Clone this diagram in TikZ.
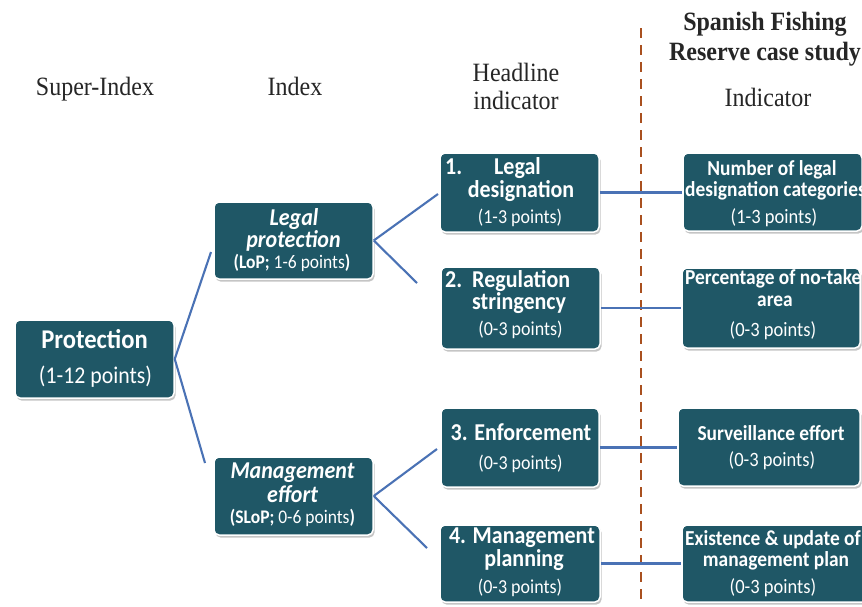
\documentclass[tikz,border=0pt]{standalone}
\usepackage{graphicx}
\usepackage{fontspec}
\setmainfont{Liberation Serif}
\newfontfamily\carl{Carlito}
\usetikzlibrary{shadows}
\definecolor{boxc}{HTML}{1F5766}
\definecolor{linec}{HTML}{4A72B5}
\definecolor{dashc}{HTML}{A9501F}
\newcommand\fs[2]{\fontsize{#1}{#2}\selectfont}
\newcommand\Ys[1]{\scalebox{1}[1.1]{#1}}
\begin{document}
\begin{tikzpicture}[x=1pt,y=-1pt,
  box/.style={rectangle, rounded corners=5pt, fill=boxc, draw=white, line width=1.5pt,
    inner sep=0pt,
    drop shadow={shadow xshift=1.5pt, shadow yshift=-2.5pt, fill=black!45, opacity=0.5}},
  tl/.style={anchor=base, inner sep=0pt, text=white, font=\carl},
  tlw/.style={tl, anchor=base west},
  hb/.style={font=\carl\fs{22}{24}\bfseries},
  hbi/.style={font=\carl\fs{22}{24}\bfseries\itshape},
  ib/.style={font=\carl\fs{19.4}{21}\bfseries},
  pr/.style={font=\carl\fs{18}{20}},
  conn/.style={draw=linec, line width=2.1pt},
  hdr/.style={anchor=base, inner sep=0pt, font=\fs{24}{28}, text=black!85},
  sep/.style={draw=dashc, line width=2.8pt, dash pattern=on 10pt off 7pt}
]
\useasboundingbox (0,0) rectangle (862,606);
\fill[white] (0,0) rectangle (862,606);

% headers
\node[hdr] (hsup) at (95,95) {\Ys{Super-Index}};
\node[hdr] (hidx) at (295,95) {\Ys{Index}};
\node[hdr] (hhead1) at (516,81) {\Ys{Headline}};
\node[hdr] (hhead2) at (516,109) {\Ys{indicator}};
\node[hdr, font=\fs{24}{28}\bfseries] (hspan1) at (765,30.5) {\Ys{Spanish Fishing}};
\node[hdr, font=\fs{24}{28}\bfseries] (hspan2) at (765,60) {\Ys{Reserve case study}};
\node[hdr] (hind) at (768,106.5) {\Ys{Indicator}};

% separator
\coordinate (septop) at (641,28);
\coordinate (sepbot) at (641,606);
\draw[sep] (septop) -- (sepbot);

% boxes
\node[box, minimum width=159pt, minimum height=78pt] (prot) at (94.5,359) {};
\node[box, minimum width=159pt, minimum height=77pt] (lp) at (293.5,240.5) {};
\node[box, minimum width=159pt, minimum height=78pt] (me) at (293.5,496) {};
\node[box, minimum width=159pt, minimum height=79pt] (h1) at (519.5,192.5) {};
\node[box, minimum width=159pt, minimum height=82pt] (h2) at (520.5,308) {};
\node[box, minimum width=158pt, minimum height=79pt] (h3) at (520,447.5) {};
\node[box, minimum width=160pt, minimum height=77pt] (h4) at (520,563.5) {};
\node[box, minimum width=179pt, minimum height=78pt] (i1) at (772.5,192) {};
\node[box, minimum width=178pt, minimum height=80pt] (i2) at (771,308) {};
\node[box, minimum width=182pt, minimum height=78pt] (i3) at (769,447) {};
\node[box, minimum width=190pt, minimum height=77pt] (i4) at (777,563.5) {};

% texts: Protection
\node[tl, font=\carl\fs{24.6}{26}\bfseries] (tp1) at (94.5,348) {\Ys{Protection}};
\node[tl, font=\carl\fs{21.8}{23}] (tp2) at (95.5,383) {\Ys{(1-12 points)}};
% Legal protection
\node[tl, hbi] (tlp1) at (294,225) {\Ys{Legal}};
\node[tl, hbi] (tlp2) at (293.5,247) {\Ys{protection}};
\node[tl, font=\carl\fs{17.5}{19}] (tlp3) at (292,268) {\Ys{\textbf{(LoP;} 1-6 points\textbf{)}}};
% Management effort
\node[tl, hbi] (tme1) at (292.5,478) {\Ys{Management}};
\node[tl, hbi] (tme2) at (292.5,502) {\Ys{effort}};
\node[tl, font=\carl\fs{17.5}{19}] (tme3) at (292.5,523) {\Ys{\textbf{(SLoP;} 0-6 points\textbf{)}}};
% 1. Legal designation
\node[tlw, hb] (th1a) at (445,174) {\Ys{1.}};
\node[tl, hb] (th1b) at (517.5,174) {\Ys{Legal}};
\node[tl, hb] (th1c) at (521,197) {\Ys{designation}};
\node[tl, pr] (th1d) at (520,223) {\Ys{(1-3 points)}};
% 2. Regulation stringency
\node[tlw, hb] (th2a) at (445,287) {\Ys{2.}};
\node[tlw, hb] (th2b) at (472,287) {\Ys{Regulation}};
\node[tlw, hb] (th2c) at (472,309) {\Ys{stringency}};
\node[tl, pr] (th2d) at (520.5,335) {\Ys{(0-3 points)}};
% 3. Enforcement
\node[tl, hb] (th3a) at (521,440) {\Ys{3. Enforcement}};
\node[tl, pr] (th3b) at (520.5,469) {\Ys{(0-3 points)}};
% 4. Management planning
\node[tl, hb] (th4a) at (522,543) {\Ys{4. Management}};
\node[tl, hb] (th4b) at (524,566.5) {\Ys{planning}};
\node[tl, pr] (th4c) at (520,593) {\Ys{(0-3 points)}};
% indicator 1
\node[tl, ib] (ti1a) at (772,175) {\Ys{Number of legal}};
\node[tlw, ib] (ti1b) at (685,196.5) {\Ys{designation categories}};
\node[tl, pr, font=\carl\fs{18.5}{20}] (ti1c) at (774,223) {\Ys{(1-3 points)}};
% indicator 2
\node[tlw, ib] (ti2a) at (685,284) {\Ys{Percentage of no-take}};
\node[tl, ib] (ti2b) at (775,306) {\Ys{area}};
\node[tl, pr, font=\carl\fs{18.5}{20}] (ti2c) at (773,336) {\Ys{(0-3 points)}};
% indicator 3
\node[tl, ib] (ti3a) at (771,440) {\Ys{Surveillance effort}};
\node[tl, pr, font=\carl\fs{18.5}{20}] (ti3b) at (772,466) {\Ys{(0-3 points)}};
% indicator 4
\node[tlw, ib] (ti4a) at (685,545) {\Ys{Existence \& update of}};
\node[tl, ib] (ti4b) at (776,566.5) {\Ys{management plan}};
\node[tl, pr, font=\carl\fs{18.5}{20}] (ti4c) at (773,593) {\Ys{(0-3 points)}};

% connectors (free ends as in the figure)
\coordinate (pa) at (211,252);
\coordinate (pb) at (205,463);
\coordinate (la) at (438,194);
\coordinate (lb) at (417,283);
\coordinate (ma) at (437,449);
\coordinate (mb) at (427,548);
\draw[conn] (prot.east) -- (pa);
\draw[conn] (prot.east) -- (pb);
\draw[conn] (lp.east) -- (la);
\draw[conn] (lp.east) -- (lb);
\draw[conn] (me.east) -- (ma);
\draw[conn] (me.east) -- (mb);
\draw[conn] (h1.east) -- (i1.west |- h1.east);
\draw[conn] (h2.east) -- (i2.west |- h2.east);
\draw[conn] (h3.east) -- (i3.west |- h3.east);
\draw[conn] (h4.east) -- (i4.west |- h4.east);
\end{tikzpicture}
\end{document}
